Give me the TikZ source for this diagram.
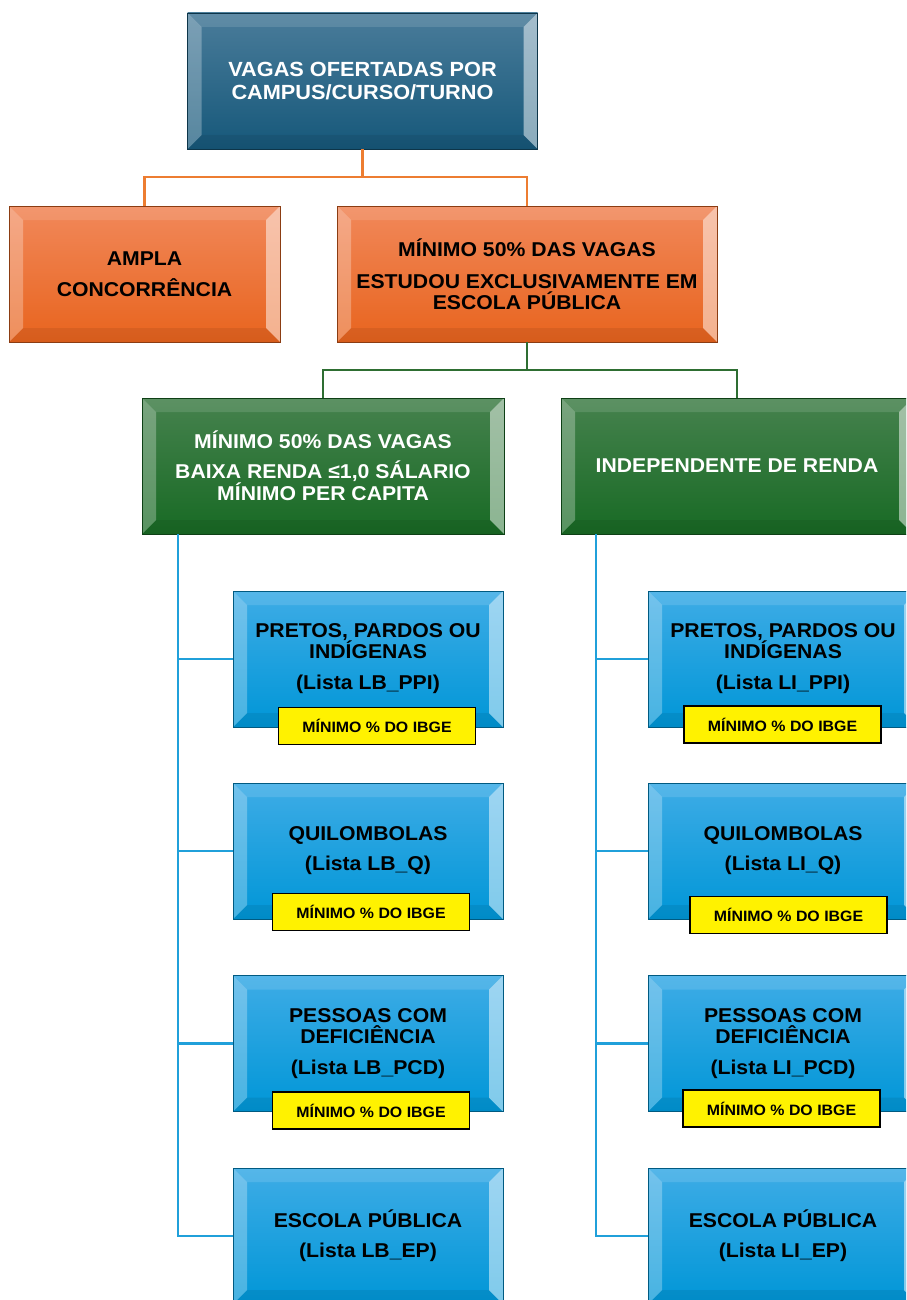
\documentclass[tikz,border=0pt]{standalone}
\usepackage{fontspec}
\setmainfont{Liberation Sans}[FakeStretch=1.06]
\usetikzlibrary{calc}

\definecolor{toptop}{RGB}{74,124,154}
\definecolor{topbot}{RGB}{22,88,122}
\definecolor{orgtop}{RGB}{241,136,90}
\definecolor{orgbot}{RGB}{232,100,30}
\definecolor{grntop}{RGB}{70,130,78}
\definecolor{grnbot}{RGB}{24,106,36}
\definecolor{blutop}{RGB}{62,172,230}
\definecolor{blubot}{RGB}{0,150,215}
\definecolor{orgline}{RGB}{237,125,49}
\definecolor{grnline}{RGB}{46,110,50}
\definecolor{bluline}{RGB}{32,160,218}

\tikzset{
  bevelbox/.style={rectangle,inner sep=0pt,outer sep=0pt,align=center,
    minimum height=136pt,line width=0.7pt,
    path picture={
      \fill[white,opacity=0.12] (path picture bounding box.north west) -- ++(14,14)
        -- ($(path picture bounding box.north east)+(-14,14)$)
        -- (path picture bounding box.north east) -- cycle;
      \fill[black,opacity=0.07] (path picture bounding box.south west) -- ++(14,-14)
        -- ($(path picture bounding box.south east)+(-14,-14)$)
        -- (path picture bounding box.south east) -- cycle;
      \fill[white,opacity=0.28] (path picture bounding box.north west) -- ++(14,14)
        -- ($(path picture bounding box.south west)+(14,-14)$)
        -- (path picture bounding box.south west) -- cycle;
      \fill[white,opacity=0.5] (path picture bounding box.north east) -- ++(-14,14)
        -- ($(path picture bounding box.south east)+(-14,-14)$)
        -- (path picture bounding box.south east) -- cycle;
    }},
  topbox/.style={bevelbox,top color=toptop,bottom color=topbot,draw=topbot!60!black,
    text=white,font=\bfseries\fontsize{20.5}{23}\selectfont},
  orgbox/.style={bevelbox,top color=orgtop,bottom color=orgbot,draw=orgbot!60!black,
    text=black,font=\bfseries\fontsize{20}{21}\selectfont},
  grnbox/.style={bevelbox,top color=grntop,bottom color=grnbot,draw=grnbot!60!black,
    text=white,font=\bfseries\fontsize{20}{22}\selectfont},
  blubox/.style={bevelbox,top color=blutop,bottom color=blubot,draw=blubot!60!black,
    text=black,minimum width=270pt,font=\bfseries\fontsize{20}{21}\selectfont},
  ibge/.style={rectangle,draw=black,fill=yellow,line width=1.6pt,
    minimum width=197pt,minimum height=37pt,inner sep=0pt,
    font=\bfseries\fontsize{15}{17}\selectfont},
  orglink/.style={draw=orgline,line width=2.4pt},
  grnlink/.style={draw=grnline,line width=2.4pt},
  blulink/.style={draw=bluline,line width=2.4pt}
}

\begin{document}
\begin{tikzpicture}[x=1pt,y=-1pt]

  \useasboundingbox (0,0) rectangle (906,1300);
  \clip (0,0) rectangle (906,1300);

  % top levels
  \node [topbox,minimum width=350pt] (vagas) at (362.5,81) {VAGAS OFERTADAS POR\\CAMPUS/CURSO/TURNO};

  \node [orgbox,minimum width=271pt] (ampla) at (144.5,274) {AMPLA\\[10pt]CONCORRÊNCIA};
  \node [orgbox,minimum width=380pt] (escpub) at (527,274) {MÍNIMO 50\% DAS VAGAS\\[11pt]ESTUDOU EXCLUSIVAMENTE EM\\ESCOLA PÚBLICA};

  \node [grnbox,minimum width=362pt] (baixa) at (323,466) {MÍNIMO 50\% DAS VAGAS\\[8pt]BAIXA RENDA ≤1,0 SÁLARIO\\MÍNIMO PER CAPITA};
  \node [grnbox,minimum width=352pt] (indep) at (737,466) {INDEPENDENTE DE RENDA};

  \path [orglink]
    (vagas.south) -- ++(0,28) -| (ampla.north)
    (vagas.south) -- ++(0,28) -| (escpub.north);

  \path [grnlink]
    (escpub.south) -- ++(0,28) -| (baixa.north)
    (escpub.south) -- ++(0,28) -| (indep.north);

  % baixa renda lists
  \node [blubox] (lbppi) at (368,659) {PRETOS, PARDOS OU\\INDÍGENAS\\[10pt](Lista LB\_PPI)};
  \node [blubox] (lbq) at (368,851) {QUILOMBOLAS\\[9pt](Lista LB\_Q)};
  \node [blubox] (lbpcd) at (368,1043.5) {PESSOAS COM\\DEFICIÊNCIA\\[10pt](Lista LB\_PCD)};
  \node [blubox] (lbep) at (368,1236) {ESCOLA PÚBLICA\\[9pt](Lista LB\_EP)};

  \node [ibge] (lbppiibge) at (377,726) {MÍNIMO \% DO IBGE};
  \node [ibge] (lbqibge) at (371,912) {MÍNIMO \% DO IBGE};
  \node [ibge] (lbpcdibge) at (371,1110.5) {MÍNIMO \% DO IBGE};

  \coordinate (lbtrunk) at ($(baixa.south west)+(36,0)$);
  \path [blulink]
    (lbtrunk) |- (lbppi.west)
    (lbtrunk) |- (lbq.west)
    (lbtrunk) |- (lbpcd.west)
    (lbtrunk) |- (lbep.west);

  % independente de renda lists
  \node [blubox] (lippi) at (783,659) {PRETOS, PARDOS OU\\INDÍGENAS\\[10pt](Lista LI\_PPI)};
  \node [blubox] (liq) at (783,851) {QUILOMBOLAS\\[9pt](Lista LI\_Q)};
  \node [blubox] (lipcd) at (783,1043.5) {PESSOAS COM\\DEFICIÊNCIA\\[10pt](Lista LI\_PCD)};
  \node [blubox] (liep) at (783,1236) {ESCOLA PÚBLICA\\[9pt](Lista LI\_EP)};

  \node [ibge] (lippiibge) at (782.5,724.5) {MÍNIMO \% DO IBGE};
  \node [ibge] (liqibge) at (788.5,915) {MÍNIMO \% DO IBGE};
  \node [ibge] (lipcdibge) at (781.5,1108.5) {MÍNIMO \% DO IBGE};

  \coordinate (litrunk) at ($(indep.south west)+(35,0)$);
  \path [blulink]
    (litrunk) |- (lippi.west)
    (litrunk) |- (liq.west)
    (litrunk) |- (lipcd.west)
    (litrunk) |- (liep.west);

\end{tikzpicture}
\end{document}
